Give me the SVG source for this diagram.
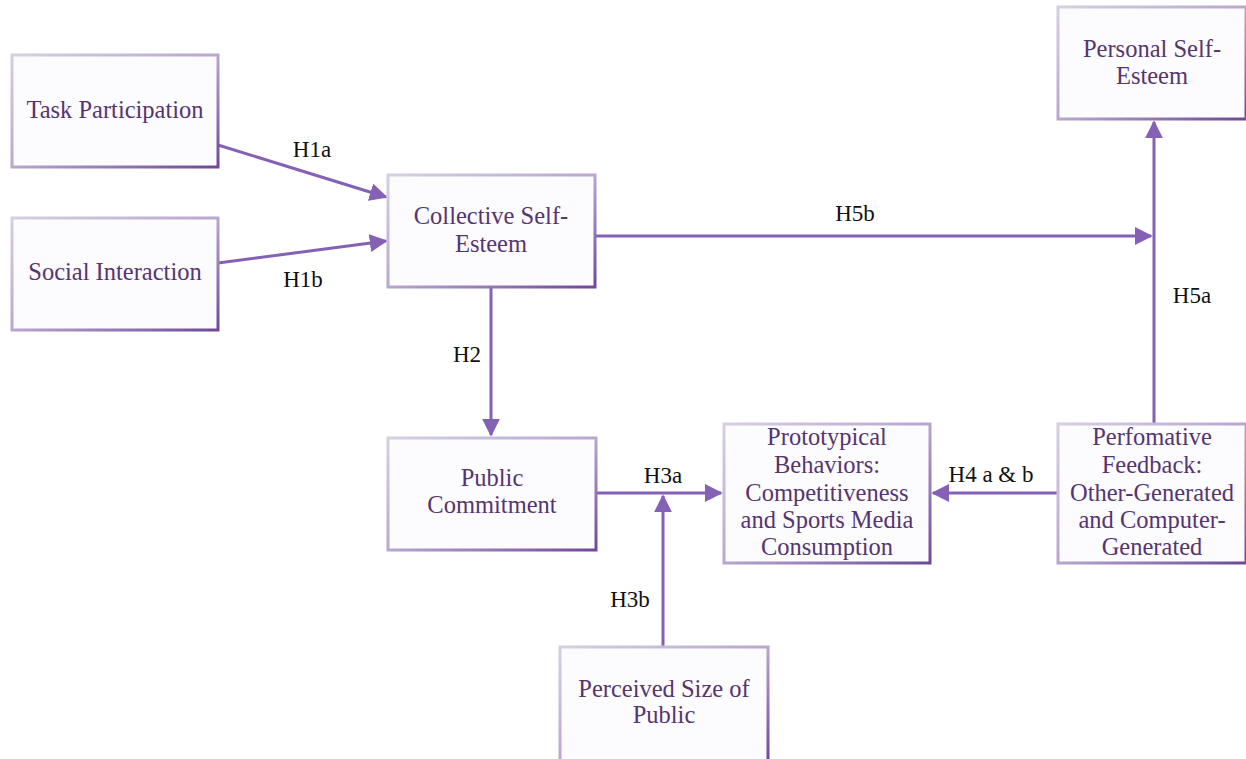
<svg xmlns="http://www.w3.org/2000/svg" width="1246" height="759" viewBox="0 0 1246 759">
<defs>
<linearGradient id="bd" x1="0" y1="0" x2="1" y2="1">
<stop offset="0" stop-color="#d6cfe2"/>
<stop offset="0.5" stop-color="#b9a6d0"/>
<stop offset="1" stop-color="#6f4897"/>
</linearGradient>
<marker id="ah" viewBox="0 0 10 10" refX="9" refY="5" markerWidth="6" markerHeight="6" markerUnits="strokeWidth" orient="auto">
<path d="M0,0 L10,5 L0,10 z" fill="#8561b5"/>
</marker>
<style>
.box{fill:#fcfbfe;stroke:url(#bd);stroke-width:3}
.t{font-family:'Liberation Serif','Times New Roman','DejaVu Serif',serif;font-size:24.5px;fill:#553570;text-anchor:middle}
.l{font-family:'Liberation Serif','Times New Roman','DejaVu Serif',serif;font-size:23px;fill:#111;text-anchor:middle}
.c{stroke:#8561b5;stroke-width:3;fill:none}
</style>
</defs>
<rect width="1246" height="759" fill="#ffffff"/>
<g id="connectors">
<line class="c" x1="218" y1="145" x2="386" y2="197" marker-end="url(#ah)"/>
<line class="c" x1="218" y1="263" x2="386" y2="241" marker-end="url(#ah)"/>
<line class="c" x1="596" y1="236" x2="1151" y2="236" marker-end="url(#ah)"/>
<line class="c" x1="1154" y1="424" x2="1154" y2="122" marker-end="url(#ah)"/>
<line class="c" x1="491" y1="288" x2="491" y2="435" marker-end="url(#ah)"/>
<line class="c" x1="597" y1="493" x2="721" y2="493" marker-end="url(#ah)"/>
<line class="c" x1="663" y1="647" x2="663" y2="496" marker-end="url(#ah)"/>
<line class="c" x1="1057" y1="493" x2="933" y2="493" marker-end="url(#ah)"/>
<text class="l" x="312" y="157">H1a</text>
<text class="l" x="303" y="287">H1b</text>
<text class="l" x="855" y="221">H5b</text>
<text class="l" x="1192" y="303">H5a</text>
<text class="l" x="467" y="362">H2</text>
<text class="l" x="663" y="483">H3a</text>
<text class="l" x="630" y="607">H3b</text>
<text class="l" x="991" y="482">H4 a &amp; b</text>
</g>
<g id="task">
<rect class="box" x="12" y="55" width="206" height="112"/>
<text class="t" x="115" y="118">Task Participation</text>
</g>
<g id="social">
<rect class="box" x="12" y="218" width="206" height="112"/>
<text class="t" x="115" y="280">Social Interaction</text>
</g>
<g id="collective">
<rect class="box" x="388" y="175" width="207" height="112"/>
<text class="t" x="491" y="224">Collective Self-</text>
<text class="t" x="491" y="252">Esteem</text>
</g>
<g id="personal">
<rect class="box" x="1058" y="7" width="188" height="112"/>
<text class="t" x="1152" y="57">Personal Self-</text>
<text class="t" x="1152" y="84">Esteem</text>
</g>
<g id="public">
<rect class="box" x="388" y="438" width="208" height="112"/>
<text class="t" x="492" y="486">Public</text>
<text class="t" x="492" y="513">Commitment</text>
</g>
<g id="prototypical">
<rect class="box" x="724" y="424" width="206" height="139"/>
<text class="t" x="827" y="445">Prototypical</text>
<text class="t" x="827" y="473">Behaviors:</text>
<text class="t" x="827" y="501">Competitiveness</text>
<text class="t" x="827" y="528">and Sports Media</text>
<text class="t" x="827" y="555">Consumption</text>
</g>
<g id="perfomative">
<rect class="box" x="1058" y="424" width="188" height="139"/>
<text class="t" x="1152" y="445">Perfomative</text>
<text class="t" x="1152" y="473">Feedback:</text>
<text class="t" x="1152" y="501">Other-Generated</text>
<text class="t" x="1152" y="528">and Computer-</text>
<text class="t" x="1152" y="555">Generated</text>
</g>
<g id="perceived">
<rect class="box" x="560" y="647" width="208" height="114"/>
<text class="t" x="664" y="697">Perceived Size of</text>
<text class="t" x="664" y="723">Public</text>
</g>
</svg>
